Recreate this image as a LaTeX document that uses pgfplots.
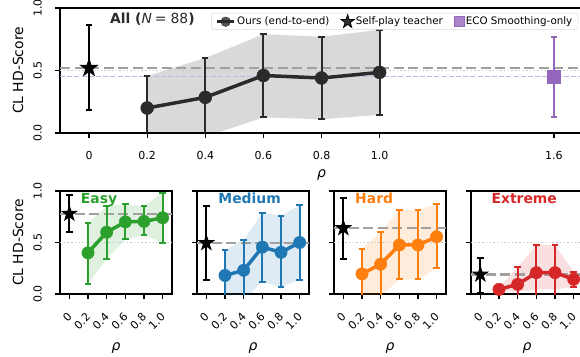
\documentclass[border=0pt]{standalone}
\usepackage{fontspec}
\setmainfont{DejaVu Sans}
\usepackage{graphicx}
\usepackage{pgfplots}
\pgfplotsset{compat=1.18}

\definecolor{cgreen}{HTML}{2CA02C}
\definecolor{cblue}{HTML}{1F77B4}
\definecolor{corange}{HTML}{FF7F0E}
\definecolor{cred}{HTML}{D62728}
\definecolor{cpurple}{HTML}{9467BD}
\definecolor{cdark}{HTML}{2B2B2B}
\definecolor{cgrayd}{HTML}{A0A0A0}
\definecolor{clav}{HTML}{C9B3DE}
\definecolor{cdot}{HTML}{C8C8C8}

\newcommand\tickfont{\fontsize{11}{13}\selectfont}
\newcommand\labfont{\fontsize{13.9}{16}\selectfont}
\newcommand\legfont{\fontsize{10.3}{12}\selectfont}
\newcommand\ttlfont{\bfseries\fontsize{13.9}{16}\selectfont}
\newcommand\ra[1]{\rotatebox{45}{#1}}

% rotated x tick labels of a lower panel whose left edge is at #1 pt
\newcommand\xlabs[1]{%
  \foreach \v/\t in {0/0,0.2/0.2,0.4/0.4,0.6/0.6,0.8/0.8,1.0/1.0}
    {\node[anchor=north east, inner sep=0pt, font=\tickfont] at ({(#1+12.8+93.333*\v)*1pt},44pt) {\ra{\t}};}}
% y tick labels, rotated, for an axis whose bottom is at #1 pt and height #2 pt
\newcommand\ylabs[2]{%
  \node[rotate=90, anchor=south, inner sep=0pt, font=\tickfont] at (42pt,{#1*1pt}) {0.0};
  \node[rotate=90, anchor=south, inner sep=0pt, font=\tickfont] at (42pt,{(#1+0.5*#2)*1pt}) {0.5};
  \node[rotate=90, anchor=south, inner sep=0pt, font=\tickfont] at (42pt,{(#1+#2)*1pt}) {1.0};}

\pgfdeclareplotmark{fstar}{%
  \pgfpathmoveto{\pgfpointpolar{90}{\pgfplotmarksize}}%
  \pgfpathlineto{\pgfpointpolar{126}{0.382*\pgfplotmarksize}}%
  \pgfpathlineto{\pgfpointpolar{162}{\pgfplotmarksize}}%
  \pgfpathlineto{\pgfpointpolar{198}{0.382*\pgfplotmarksize}}%
  \pgfpathlineto{\pgfpointpolar{234}{\pgfplotmarksize}}%
  \pgfpathlineto{\pgfpointpolar{270}{0.382*\pgfplotmarksize}}%
  \pgfpathlineto{\pgfpointpolar{306}{\pgfplotmarksize}}%
  \pgfpathlineto{\pgfpointpolar{342}{0.382*\pgfplotmarksize}}%
  \pgfpathlineto{\pgfpointpolar{18}{\pgfplotmarksize}}%
  \pgfpathlineto{\pgfpointpolar{54}{0.382*\pgfplotmarksize}}%
  \pgfpathclose
  \pgfusepathqfillstroke}

\pgfplotsset{
  base/.style={scale only axis, anchor=south west,
    axis line style={line width=1.4pt},
    tick align=outside, tick pos=left, major tick length=5pt,
    every tick/.style={black, line width=1.3pt},
    ymin=0, ymax=1, ytick={0,0.5,1}, yticklabels={},
    ticklabel style={font=\tickfont},
    /pgf/number format/assume math mode=true,
    clip=true},
  ylab/.style={ylabel={CL HD-Score},
    every axis y label/.style={at={(axis description cs:#1,0.5)}, rotate=90, anchor=center, font=\labfont}},
  xlab/.style={xlabel={\itshape ρ},
    every axis x label/.style={at={(axis description cs:0.5,0)}, anchor=base, yshift=#1, font=\labfont}},
  small/.style={base, width=112pt, height=103pt, xmin=-0.1, xmax=1.1,
    xtick={0,0.2,0.4,0.6,0.8,1.0}, xticklabels={},
    xlab=-56.5pt},
  band/.style={draw=none, fill=#1, fill opacity=0.15, forget plot},
  dotl/.style={color=cdot, line width=1.4pt, dash pattern=on 1.4pt off 2.3pt, forget plot},
  dashl/.style={color=cgrayd, line width=2.2pt, dash pattern=on 10pt off 4.5pt, forget plot},
  ebar/.style={/pgfplots/error bars/y dir=both, /pgfplots/error bars/y explicit,
    /pgfplots/error bars/error bar style={line width=2pt, #1},
    /pgfplots/error bars/error mark options={rotate=90, mark size=3.2pt, line width=2pt, #1}},
  teach/.style={only marks, mark=fstar, mark size=#1, black, mark options={solid, fill=black, line width=1.2pt, line join=miter}, forget plot, ebar=black},
  ours/.style={color=#1, line width=3.5pt, mark=*, mark options={solid, fill=#1, line width=0.4pt}, forget plot, ebar=#1},
  legstar/.style={legend image code/.code={\draw[mark repeat=2,mark phase=2,##1] plot coordinates {(0pt,0pt) (6.5pt,0pt) (13pt,0pt)};}},
  legsq/.style={legend image code/.code={\draw[mark repeat=2,mark phase=2,##1] plot coordinates {(0pt,0pt) (5pt,0pt) (10pt,0pt)};}},
  legline/.style={legend image code/.code={\draw[cdark, line width=3pt] (0pt,0pt) -- (17pt,0pt); \fill[cdark] (8.5pt,0pt) circle (4.8pt);}},
}

\begin{document}
\begin{tikzpicture}
\useasboundingbox (0,0) rectangle (580pt,356pt);

% ---------------- Top: All ----------------
\begin{axis}[base, at={(60pt,223pt)}, width=523pt, height=125pt,
  xmin=-0.1, xmax=1.7,
  xtick={0,0.2,0.4,0.6,0.8,1.0,1.6}, xticklabels={0,0.2,0.4,0.6,0.8,1.0,1.6},
  xticklabel style={yshift=-10pt},
  ylab=-0.0803, xlab=-44.5pt,
  legend columns=3,
  legend style={at={(1,1)}, anchor=north east, xshift=-5pt, yshift=-5pt,
    font=\legfont, draw=black!15, rounded corners=2pt, fill=white, fill opacity=0.8, text opacity=1,
    inner xsep=4pt, inner ysep=1.5pt,
    nodes={inner sep=1.5pt},
    /tikz/every even column/.append style={column sep=10pt}},
  legend cell align=left]
\addlegendimage{legline}
\addlegendentry{Ours (end-to-end)}
\addlegendimage{only marks, mark=fstar, mark size=7pt, black, mark options={fill=black, line width=0.8pt}, legstar}
\addlegendentry{Self-play teacher}
\addlegendimage{only marks, mark=square*, mark size=5pt, cpurple, legsq}
\addlegendentry{ECO Smoothing-only}

\addplot[band=black] coordinates {(0.2,0.456) (0.4,0.600) (0.6,0.790) (0.8,0.770) (1.0,0.825)
  (1.0,0.145) (0.8,0.110) (0.6,0.125) (0.4,-0.030) (0.2,-0.056)};
\addplot[dotl] coordinates {(-0.1,0.5) (1.7,0.5)};
\addplot[dashl] coordinates {(-0.1,0.52) (1.7,0.52)};
\addplot[color=clav, line width=1.3pt, dash pattern=on 5pt off 2.2pt, forget plot] coordinates {(-0.1,0.45) (1.7,0.45)};
\addplot[teach=8.5pt] coordinates {(0,0.52) += (0,0.34) -= (0,0.34)};
\addplot[mark size=6.5pt, ours=cdark] coordinates {
  (0.2,0.200) += (0,0.256) -= (0,0.256)
  (0.4,0.285) += (0,0.315) -= (0,0.315)
  (0.6,0.460) += (0,0.330) -= (0,0.335)
  (0.8,0.440) += (0,0.330) -= (0,0.330)
  (1.0,0.485) += (0,0.340) -= (0,0.340)};
\addplot[only marks, mark=square*, mark size=6.3pt, cpurple, forget plot, ebar=cpurple]
  coordinates {(1.6,0.45) += (0,0.32) -= (0,0.325)};
\node[anchor=base west, font=\ttlfont, text=cdark] at (rel axis cs:0.089,0.876)
  {All (\mdseries\itshape N\upshape\hspace{3pt}=\hspace{4pt}88\bfseries)};
\end{axis}

% ---------------- Easy ----------------
\begin{axis}[small, at={(60pt,62pt)}, ylab=-0.375]
\addplot[band=cgreen] coordinates {(0.2,0.69) (0.4,0.85) (0.6,0.87) (0.8,0.85) (1.0,0.99)
  (1.0,0.50) (0.8,0.57) (0.6,0.53) (0.4,0.34) (0.2,0.10)};
\addplot[dotl] coordinates {(-0.1,0.5) (1.1,0.5)};
\addplot[dashl] coordinates {(-0.1,0.78) (1.1,0.78)};
\addplot[teach=7.3pt] coordinates {(0,0.78) += (0,0.18) -= (0,0.18)};
\addplot[mark size=6.2pt, ours=cgreen] coordinates {
  (0.2,0.400) += (0,0.29) -= (0,0.30)
  (0.4,0.600) += (0,0.25) -= (0,0.26)
  (0.6,0.700) += (0,0.17) -= (0,0.17)
  (0.8,0.705) += (0,0.145) -= (0,0.135)
  (1.0,0.740) += (0,0.24) -= (0,0.24)};
\node[anchor=base west, font=\ttlfont, text=cgreen] at (rel axis cs:0.155,0.879) {Easy};
\end{axis}

% ---------------- Medium ----------------
\begin{axis}[small, at={(197pt,62pt)}]
\addplot[band=cblue] coordinates {(0.2,0.43) (0.4,0.52) (0.6,0.79) (0.8,0.76) (1.0,0.86)
  (1.0,0.14) (0.8,0.065) (0.6,0.12) (0.4,-0.06) (0.2,-0.07)};
\addplot[dotl] coordinates {(-0.1,0.5) (1.1,0.5)};
\addplot[dashl] coordinates {(-0.1,0.495) (1.1,0.495)};
\addplot[teach=7.3pt] coordinates {(0,0.495) += (0,0.36) -= (0,0.355)};
\addplot[mark size=6.2pt, ours=cblue] coordinates {
  (0.2,0.180) += (0,0.25) -= (0,0.25)
  (0.4,0.230) += (0,0.29) -= (0,0.29)
  (0.6,0.455) += (0,0.335) -= (0,0.335)
  (0.8,0.405) += (0,0.355) -= (0,0.34)
  (1.0,0.500) += (0,0.36) -= (0,0.36)};
\node[anchor=base west, font=\ttlfont, text=cblue] at (rel axis cs:0.16,0.879) {Medium};
\end{axis}

% ---------------- Hard ----------------
\begin{axis}[small, at={(334pt,62pt)}]
\addplot[band=corange] coordinates {(0.2,0.437) (0.4,0.60) (0.6,0.816) (0.8,0.816) (1.0,0.87)
  (1.0,0.25) (0.8,0.143) (0.6,0.143) (0.4,-0.02) (0.2,-0.05)};
\addplot[dotl] coordinates {(-0.1,0.5) (1.1,0.5)};
\addplot[dashl] coordinates {(-0.1,0.64) (1.1,0.64)};
\addplot[teach=7.3pt] coordinates {(0,0.64) += (0,0.295) -= (0,0.30)};
\addplot[mark size=6.2pt, ours=corange] coordinates {
  (0.2,0.195) += (0,0.242) -= (0,0.245)
  (0.4,0.290) += (0,0.31) -= (0,0.31)
  (0.6,0.476) += (0,0.34) -= (0,0.333)
  (0.8,0.476) += (0,0.34) -= (0,0.333)
  (1.0,0.556) += (0,0.314) -= (0,0.306)};
\node[anchor=base west, font=\ttlfont, text=corange] at (rel axis cs:0.158,0.879) {Hard};
\end{axis}

% ---------------- Extreme ----------------
\begin{axis}[small, at={(471pt,62pt)}]
\addplot[band=cred] coordinates {(0.2,0.06) (0.4,0.26) (0.6,0.476) (0.8,0.476) (1.0,0.217)
  (1.0,0.07) (0.8,0.045) (0.6,0.045) (0.4,0.02) (0.2,0.03)};
\addplot[dotl] coordinates {(-0.1,0.5) (1.1,0.5)};
\addplot[dashl] coordinates {(-0.1,0.19) (1.1,0.19)};
\addplot[teach=7.3pt] coordinates {(0,0.19) += (0,0.16) -= (0,0.183)};
\addplot[mark size=6.2pt, ours=cred] coordinates {
  (0.2,0.045) += (0,0.015) -= (0,0.015)
  (0.4,0.094) += (0,0.166) -= (0,0.166)
  (0.6,0.207) += (0,0.269) -= (0,0.269)
  (0.8,0.207) += (0,0.269) -= (0,0.269)
  (1.0,0.143) += (0,0.074) -= (0,0.074)};
\node[anchor=base west, font=\ttlfont, text=cred] at (rel axis cs:0.152,0.879) {Extreme};
\end{axis}

% tick labels set as plain text nodes
\ylabs{223}{125}
\ylabs{62}{103}
\xlabs{60}
\xlabs{197}
\xlabs{334}
\xlabs{471}
\end{tikzpicture}
\end{document}
